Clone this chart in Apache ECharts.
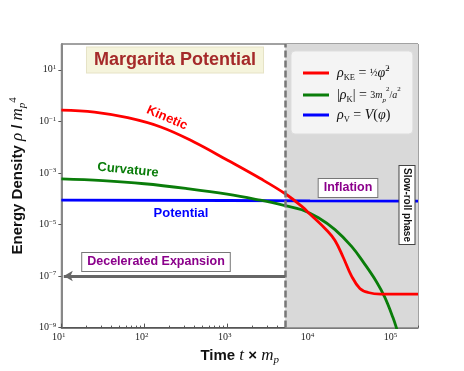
<!DOCTYPE html>
<html>
<head>
<meta charset="utf-8">
<script src="https://cdn.jsdelivr.net/npm/echarts@6/dist/echarts.min.js"></script>
<style>
  html, body { margin: 0; padding: 0; background: #fff; }
  #chart { width: 464px; height: 371px; }
</style>
</head>
<body>
<div id="chart"></div>
<script>
// kinetic energy density
const tKE = [10, 25.1, 63.1, 158, 398, 1000, 2512, 5012, 7943, 10000, 15850, 19950, 25120, 31620, 39810, 50120, 70790, 200000]
const rhoKE = [0.272, 0.229, 0.138, 0.0603, 0.0158, 3.16e-3, 6.03e-4, 1.55e-4, 5.0e-5, 2.5e-5, 6.0e-6, 2.4e-6, 5.25e-7, 1.0e-7, 3.3e-8, 2.3e-8, 2.0e-8, 2.0e-8]
// curvature
const tK = [10, 31.6, 100, 316, 1000, 2512, 5012, 7943, 12590, 19950, 31620, 44670, 63100, 79430, 100000, 112200, 125900]
const rhoK = [5.89e-4, 5.01e-4, 3.8e-4, 2.51e-4, 1.51e-4, 8.71e-5, 5.37e-5, 3.72e-5, 1.82e-5, 6.31e-6, 1.41e-6, 3.16e-7, 6.03e-8, 1.51e-8, 2.4e-9, 7.9e-10, 2.5e-10]
// potential
const tV = [10, 1000, 10000, 200000]
const rhoV = [8.8e-5, 8.5e-5, 8.2e-5, 8.0e-5]

const xTicks = [10, 100, 1000, 10000, 100000]
const yTicks = [1e-9, 1e-7, 1e-5, 1e-3, 1e-1, 10]
const tInflation = 5000
const arrowY = 1e-7

const zip = (xs, ys) => xs.map((x, i) => [x, ys[i]])

// minor log ticks 2..9 in each decade
const xMinor = []
for (let d = 10; d <= 100000; d *= 10) {
  for (let k = 2; k <= 9; k++) {
    if (d * k <= 200000) xMinor.push(d * k)
  }
}

const serif = 'Liberation Serif'
const sans = 'Liberation Sans'

const tickRich = {
  b: { fontFamily: serif, fontSize: 10, color: '#222', lineHeight: 12 },
  s: { fontFamily: serif, fontSize: 7, color: '#222', lineHeight: 6, verticalAlign: 'top' },
}
const tickFmt = (v) => {
  const e = Math.round(Math.log10(v))
  return '{b|10}{s|' + (e < 0 ? '\u2212' + -e : e) + '}'
}

const mathRich = {
  b: { fontFamily: sans, fontWeight: 'bold', fontSize: 15, color: '#111', lineHeight: 20 },
  i: { fontFamily: serif, fontStyle: 'italic', fontSize: 17, color: '#111', lineHeight: 20 },
  sb: { fontFamily: serif, fontStyle: 'italic', fontSize: 11, color: '#111', lineHeight: 8, verticalAlign: 'bottom' },
  sp: { fontFamily: serif, fontSize: 11, color: '#111', lineHeight: 8, verticalAlign: 'top' },
}

const legRich = {
  i: { fontFamily: serif, fontStyle: 'italic', fontSize: 14, color: '#111', lineHeight: 18 },
  t: { fontFamily: serif, fontSize: 14, color: '#111', lineHeight: 18 },
  sb: { fontFamily: serif, fontSize: 8.5, color: '#111', lineHeight: 8, verticalAlign: 'bottom' },
  sp: { fontFamily: serif, fontSize: 8.5, color: '#111', lineHeight: 8, verticalAlign: 'top' },
  fr: { fontFamily: serif, fontSize: 10, color: '#111', lineHeight: 18 },
  fi: { fontFamily: serif, fontStyle: 'italic', fontSize: 10, color: '#111', lineHeight: 18 },
  fsb: { fontFamily: serif, fontStyle: 'italic', fontSize: 7, color: '#111', lineHeight: 10, verticalAlign: 'bottom' },
  fsp: { fontFamily: serif, fontSize: 7, color: '#111', lineHeight: 10, verticalAlign: 'top' },
}
const legNames = {
  ke: '{i|\u03c1}{sb|KE}{t| = }{fr|\u00bd}{i|\u03c6\u0307}{sp|2}',
  k: '{t||}{i|\u03c1}{sb|K}{t|| = }{fr|3}{fi|m}{fsb|p}{fsp|2}{fr|/}{fi|a}{fsp|2}',
  v: '{i|\u03c1}{sb|V}{t| = }{i|V}{t|(}{i|\u03c6}{t|)}',
}

const chart = echarts.init(document.getElementById('chart'), null, { renderer: 'canvas' })

const option = {
  animation: false,
  backgroundColor: '#fff',
  grid: {
    left: 57, right: 46, top: 44, bottom: 41,
    show: true, borderColor: '#444', borderWidth: 1, backgroundColor: 'transparent',
  },
  legend: {
    data: ['ke', 'k', 'v'],
    orient: 'vertical',
    left: 291, top: 51,
    padding: [13, 12, 10, 12],
    itemGap: 4,
    itemWidth: 26, itemHeight: 3,
    icon: 'rect',
    backgroundColor: 'rgba(246,246,246,0.95)',
    borderColor: '#ddd', borderWidth: 1, borderRadius: 4,
    formatter: (n) => legNames[n],
    textStyle: { rich: legRich, padding: [0, 0, 0, 3] },
  },
  xAxis: [
    {
      type: 'log', logBase: 10, min: 10, max: 200000,
      name: '{b|Time }{i|t}{b| \u00d7 }{i|m}{sb|p}',
      nameLocation: 'middle', nameGap: 7,
      nameTextStyle: { rich: mathRich },
      axisLine: { show: true, lineStyle: { color: '#555', width: 1.5 } },
      axisTick: { show: true, inside: true, length: 4, customValues: xTicks, lineStyle: { color: '#555' } },
      axisLabel: { customValues: xTicks, formatter: tickFmt, rich: tickRich, margin: 4, padding: [0, 5, 0, 0] },
      splitLine: { show: false },
      minorTick: { show: false },
    },
    {
      type: 'log', logBase: 10, min: 10, max: 200000, position: 'bottom',
      axisLine: { show: false },
      axisTick: { show: true, inside: true, length: 2, customValues: xMinor, lineStyle: { color: '#555' } },
      axisLabel: { show: false },
      splitLine: { show: false },
    },
  ],
  yAxis: {
    type: 'log', logBase: 10, min: 1e-9, max: 100,
    name: '{b|Energy Density }{i|\u03c1}{b| / }{i|m}{sb|p}{sp|4}',
    nameLocation: 'middle', nameGap: 21, nameRotate: 90,
    nameTextStyle: { rich: mathRich, padding: [0, 0, 0, 20] },
    axisLine: { show: true, lineStyle: { color: '#888', width: 2 } },
    axisTick: { show: true, length: 3, customValues: yTicks, lineStyle: { color: '#555' } },
    axisLabel: { customValues: yTicks, formatter: tickFmt, rich: tickRich, margin: 5 },
    splitLine: { show: false },
  },
  series: [
    {
      name: 'ke', type: 'line', data: zip(tKE, rhoKE),
      showSymbol: false, smooth: 0.4, color: '#ff0000',
      lineStyle: { width: 2.8 }, z: 4,
    },
    {
      name: 'k', type: 'line', data: zip(tK, rhoK),
      showSymbol: false, smooth: 0.4, color: '#0a7d0a',
      lineStyle: { width: 2.8 }, z: 3,
    },
    {
      name: 'v', type: 'line', data: zip(tV, rhoV),
      showSymbol: false, color: '#0000ff',
      lineStyle: { width: 2.8 }, z: 2,
      markArea: {
        silent: true,
        itemStyle: { color: '#d9d9d9' },
        data: [[{ xAxis: tInflation }, { xAxis: 200000 }]],
      },
      markLine: {
        silent: true,
        symbol: ['none', 'none'],
        label: { show: false },
        data: [
          { xAxis: tInflation, lineStyle: { color: '#777', width: 2.5, type: [7, 3] } },
          [
            { coord: [tInflation, arrowY], lineStyle: { color: '#666', width: 3, type: 'solid' } },
            { coord: [10.7, arrowY], symbol: 'arrow', symbolSize: [8, 9] },
          ],
        ],
      },
    },
  ],
  graphic: [
    {
      type: 'text', x: 175, y: 60, z: 100,
      style: {
        text: 'Margarita Potential', fill: '#a52a2a',
        font: 'bold 18px "Liberation Sans"', align: 'center', verticalAlign: 'middle',
        backgroundColor: '#f5f4dc', borderColor: '#e6e3c6', borderWidth: 1, padding: [4, 7, 3, 7],
      },
    },
    {
      type: 'text', x: 167, y: 118, rotation: -0.41, z: 100,
      style: { text: 'Kinetic', fill: '#ff0000', font: 'bold 13px "Liberation Sans"', align: 'center', verticalAlign: 'middle' },
    },
    {
      type: 'text', x: 128, y: 170, rotation: -0.1, z: 100,
      style: { text: 'Curvature', fill: '#0a7d0a', font: 'bold 13px "Liberation Sans"', align: 'center', verticalAlign: 'middle' },
    },
    {
      type: 'text', x: 181, y: 213, z: 100,
      style: { text: 'Potential', fill: '#0000ff', font: 'bold 13px "Liberation Sans"', align: 'center', verticalAlign: 'middle' },
    },
    {
      type: 'text', x: 156, y: 262, z: 100,
      style: {
        text: 'Decelerated Expansion', fill: '#8b008b',
        font: 'bold 12.5px "Liberation Sans"', align: 'center', verticalAlign: 'middle',
        backgroundColor: '#fff', borderColor: '#777', borderWidth: 1, padding: [3, 5, 2, 5],
      },
    },
    {
      type: 'text', x: 348, y: 188, z: 100,
      style: {
        text: 'Inflation', fill: '#8b008b',
        font: 'bold 12.5px "Liberation Sans"', align: 'center', verticalAlign: 'middle',
        backgroundColor: '#fff', borderColor: '#777', borderWidth: 1, padding: [3, 5, 2, 5],
      },
    },
    {
      type: 'text', x: 407, y: 205, rotation: -Math.PI / 2, z: 100,
      style: {
        text: 'Slow-roll phase', fill: '#111',
        font: 'bold 10px "Liberation Sans"', align: 'center', verticalAlign: 'middle',
        backgroundColor: '#fff', borderColor: '#444', borderWidth: 1, padding: [3, 2, 2, 2],
      },
    },
  ],
}

chart.setOption(option)
window.addEventListener('resize', () => chart.resize())
</script>
</body>
</html>
